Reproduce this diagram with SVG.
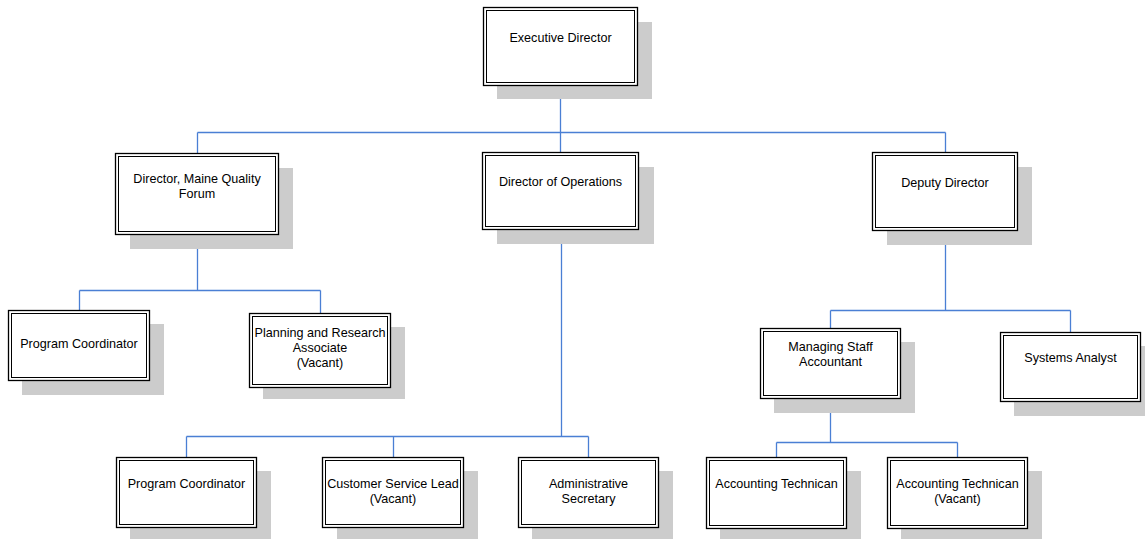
<svg xmlns="http://www.w3.org/2000/svg" width="1145" height="539" viewBox="0 0 1145 539">
<style>
.sh{fill:#cccccc;stroke:none}
.bo{fill:#ffffff;stroke:#000000;stroke-width:1.3}
.bi{fill:none;stroke:#000000;stroke-width:1}
.t{font-family:"Liberation Sans",Arial,sans-serif;font-size:12.6px;fill:#000000;text-anchor:middle}
.c{fill:none;stroke:#4a7fd4;stroke-width:1.3}
</style>
<rect width="1145" height="539" fill="#ffffff"/>
<g id="connectors">
<path class="c" d="M560.5,85V132.5M197.5,132.5H945.5M197.5,132.5V153M560.5,132.5V152M945.5,132.5V152"/>
<path class="c" d="M197.5,234V290.5M79.5,290.5H320.5M79.5,290.5V310M320.5,290.5V313"/>
<path class="c" d="M561.5,229V436.5M186.5,436.5H588.5M186.5,436.5V457M393.5,436.5V457M588.5,436.5V457"/>
<path class="c" d="M945.5,230V310.5M830.5,310.5H1070.5M830.5,310.5V328M1070.5,310.5V332"/>
<path class="c" d="M830.5,398V442.5M776.5,442.5H957.5M776.5,442.5V457M957.5,442.5V457"/>
</g>
<g id="executive-director">
<rect class="sh" x="497" y="22" width="155" height="77"/>
<rect class="bo" x="483.5" y="7.5" width="154" height="78"/>
<rect class="bi" x="486.5" y="10.5" width="148" height="72"/>
<text class="t" x="560.5" y="42">Executive Director</text>
</g>
<g id="director-mqf">
<rect class="sh" x="130" y="168" width="163" height="81"/>
<rect class="bo" x="115.5" y="153.5" width="163" height="81"/>
<rect class="bi" x="118.5" y="156.5" width="157" height="75"/>
<text class="t" x="197" y="183">Director, Maine Quality</text>
<text class="t" x="197" y="198">Forum</text>
</g>
<g id="director-operations">
<rect class="sh" x="497" y="167" width="157" height="77"/>
<rect class="bo" x="482.5" y="152.5" width="156" height="77"/>
<rect class="bi" x="485.5" y="155.5" width="150" height="71"/>
<text class="t" x="560.5" y="186">Director of Operations</text>
</g>
<g id="deputy-director">
<rect class="sh" x="887" y="167" width="145" height="78"/>
<rect class="bo" x="872.5" y="152.5" width="145" height="78"/>
<rect class="bi" x="875.5" y="155.5" width="139" height="72"/>
<text class="t" x="945" y="187">Deputy Director</text>
</g>
<g id="program-coordinator-1">
<rect class="sh" x="22" y="324" width="142" height="71"/>
<rect class="bo" x="8.5" y="310.5" width="141" height="70"/>
<rect class="bi" x="11.5" y="313.5" width="135" height="64"/>
<text class="t" x="79" y="348">Program Coordinator</text>
</g>
<g id="planning-research">
<rect class="sh" x="263" y="327" width="142" height="72"/>
<rect class="bo" x="249.5" y="313.5" width="141" height="74"/>
<rect class="bi" x="252.5" y="316.5" width="135" height="68"/>
<text class="t" x="320" y="337">Planning and Research</text>
<text class="t" x="320" y="352">Associate</text>
<text class="t" x="320" y="367">(Vacant)</text>
</g>
<g id="managing-staff-accountant">
<rect class="sh" x="774" y="342" width="141" height="71"/>
<rect class="bo" x="760.5" y="328.5" width="140" height="70"/>
<rect class="bi" x="763.5" y="331.5" width="134" height="64"/>
<text class="t" x="830.5" y="351">Managing Staff</text>
<text class="t" x="830.5" y="366">Accountant</text>
</g>
<g id="systems-analyst">
<rect class="sh" x="1014" y="346" width="131" height="70"/>
<rect class="bo" x="1000.5" y="332.5" width="140" height="69"/>
<rect class="bi" x="1003.5" y="335.5" width="134" height="63"/>
<text class="t" x="1070.5" y="362">Systems Analyst</text>
</g>
<g id="program-coordinator-2">
<rect class="sh" x="130" y="471" width="141" height="68"/>
<rect class="bo" x="116.5" y="457.5" width="140" height="70"/>
<rect class="bi" x="119.5" y="460.5" width="134" height="64"/>
<text class="t" x="186.5" y="488">Program Coordinator</text>
</g>
<g id="customer-service-lead">
<rect class="sh" x="337" y="471" width="141" height="68"/>
<rect class="bo" x="322.5" y="457.5" width="141" height="70"/>
<rect class="bi" x="325.5" y="460.5" width="135" height="64"/>
<text class="t" x="393" y="488">Customer Service Lead</text>
<text class="t" x="393" y="503">(Vacant)</text>
</g>
<g id="administrative-secretary">
<rect class="sh" x="532" y="471" width="141" height="68"/>
<rect class="bo" x="518.5" y="457.5" width="140" height="70"/>
<rect class="bi" x="521.5" y="460.5" width="134" height="64"/>
<text class="t" x="588.5" y="488">Administrative</text>
<text class="t" x="588.5" y="503">Secretary</text>
</g>
<g id="accounting-technician-1">
<rect class="sh" x="720" y="471" width="141" height="68"/>
<rect class="bo" x="706.5" y="457.5" width="140" height="71"/>
<rect class="bi" x="709.5" y="460.5" width="134" height="65"/>
<text class="t" x="776.5" y="488">Accounting Technican</text>
</g>
<g id="accounting-technician-2">
<rect class="sh" x="901" y="471" width="141" height="68"/>
<rect class="bo" x="887.5" y="457.5" width="140" height="71"/>
<rect class="bi" x="890.5" y="460.5" width="134" height="65"/>
<text class="t" x="957.5" y="488">Accounting Technican</text>
<text class="t" x="957.5" y="503">(Vacant)</text>
</g>
</svg>
